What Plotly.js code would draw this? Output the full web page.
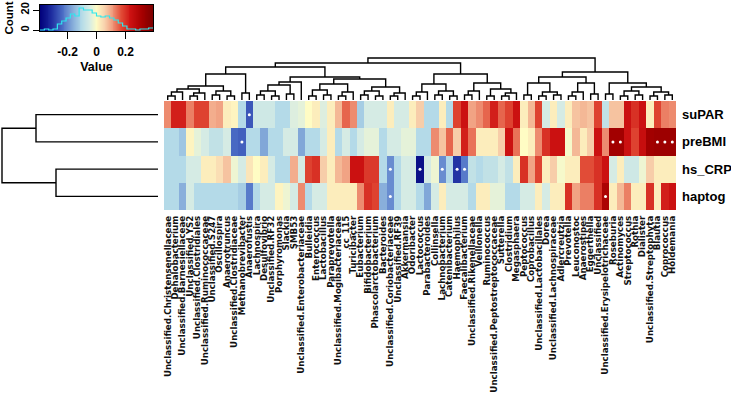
<!DOCTYPE html>
<html><head><meta charset="utf-8">
<script src="https://cdn.plot.ly/plotly-3.0.1.min.js"></script>
<style>html,body{margin:0;padding:0;background:#fff;} #chart{width:731px;height:400px;}</style>
</head><body><div id="chart"></div>
<script>
// ---------- data ----------
const taxa = ["Unclassified.Christensenellaceae","Dehalobacterium","Unclassified.Barnesiellaceae","Unclassified.YS2","Unclassified.Clostridiales","Unclassified.Ruminococcaceae","Unclassified.S247","Oscillospira","Anaerotruncus","Unclassified.Clostridiaceae","Methanobrevibacter","Anaerofustis","Lachnospira","Desulfovibrio","Unclassified.RF32","Porphyromonas","Slackia","SMB53","Unclassified.Enterobacteriaceae","Bulleidia","Enterococcus","Lactobacillus","Paraprevotella","Unclassified.Mogibacteriaceae","cc_115","Turicibacter","Eubacterium","Bifidobacterium","Phascolarctobacterium","Bacteroides","Unclassified.Coriobacteriaceae","Unclassified.RF39","Akkermansia","Odoribacter","Lactococcus","Parabacteroides","Collinsella","Lachnobacterium","Catenibacterium","Haemophilus","Faecalibacterium","Unclassified.Rikenellaceae","Veillonella","Ruminococcus","Unclassified.Peptostreptococcaceae","Sutterella","Clostridium","Megasphaera","Peptococcus","Coprobacillus","Unclassified.Lactobacillales","Dorea","Unclassified.Lachnospiraceae","Adlercreutzia","Prevotella","Leuconostoc","Anaerostipes","Eggerthella","Unclassified","Unclassified.Erysipelotrichaceae","Roseburia","Actinomyces","Streptococcus","Rothia","Dialister","Unclassified.Streptophyta","Blautia","Coprococcus","Holdemania"];
const rowNames = ["suPAR","preBMI","hs_CRP","haptog"];

const suPAR  = [0.12,0.22,0.22,0.13,0.18,0.18,0.09,0.10,0.02,0.01,-0.10,-0.26,-0.06,-0.06,-0.06,-0.10,-0.10,-0.04,-0.03,0.00,0.02,-0.04,0.02,0.08,0.15,0.12,-0.12,-0.05,-0.05,-0.05,0.02,-0.05,-0.05,0.02,0.06,-0.10,-0.10,0.02,-0.10,0.18,0.24,0.10,0.12,0.15,0.22,0.15,0.18,0.24,0.02,0.08,0.18,-0.05,0.02,-0.05,0.02,0.07,0.08,0.07,0.18,-0.08,0.07,0.07,0.24,0.20,0.24,0.02,0.18,0.13,0.12];
const preBMI = [-0.10,-0.10,-0.13,0.01,-0.03,-0.05,-0.08,-0.08,-0.05,-0.24,-0.25,-0.10,-0.10,-0.17,-0.10,-0.10,-0.05,-0.05,-0.17,-0.10,-0.10,-0.05,0.02,-0.10,-0.05,-0.10,-0.05,-0.03,-0.03,-0.10,-0.05,-0.05,-0.03,-0.03,-0.10,-0.10,0.12,0.07,0.15,0.06,0.22,0.14,0.02,0.02,0.02,0.06,0.24,0.14,0.00,0.02,0.12,0.20,0.24,0.24,-0.01,0.08,0.02,0.06,0.24,0.12,0.32,0.32,0.24,0.18,0.25,0.32,0.33,0.33,0.33];
const hsCRP  = [-0.10,-0.10,-0.10,-0.05,-0.05,0.02,0.02,0.04,0.07,-0.02,-0.05,0.03,0.00,0.02,-0.05,-0.10,-0.10,0.09,-0.05,0.18,0.20,0.06,0.02,0.08,0.10,0.24,0.24,0.19,0.19,-0.10,-0.20,-0.10,-0.05,-0.05,-0.36,-0.05,-0.02,-0.20,-0.10,-0.30,-0.22,-0.08,-0.10,-0.08,-0.08,-0.05,-0.08,0.02,0.20,0.10,0.18,0.02,0.06,-0.01,0.02,0.02,0.17,0.17,0.20,0.24,-0.05,0.02,-0.06,-0.06,-0.02,0.06,0.02,0.02,0.02];
const haptog = [-0.10,-0.10,-0.16,-0.05,-0.10,-0.10,-0.10,-0.10,-0.10,-0.10,-0.12,-0.22,-0.10,-0.05,-0.05,0.01,-0.02,-0.05,0.12,-0.10,-0.05,-0.05,0.02,0.02,0.02,0.02,0.12,0.20,0.18,-0.16,-0.20,-0.10,-0.05,-0.05,-0.10,-0.17,-0.05,0.02,-0.05,-0.05,-0.05,-0.10,0.02,0.02,-0.03,-0.03,-0.10,-0.10,-0.05,-0.05,0.02,-0.05,0.02,0.02,0.20,0.10,0.13,0.13,0.20,0.30,0.02,0.08,0.13,0.02,0.02,0.20,0.02,0.22,0.24];

// significance marks (row index, column index)
const sigRows = [0,1,2,2,2,2,2,3,3,1,1,1,1,1];
const sigCols = [11,10,30,34,37,39,40,30,59,60,61,66,67,68];

// column dendrogram: [left, right, height]; numbers are leaf columns
const colTree = [
  [
    [
      [
        [ [[[0,1,4],2,8], [[3,4,4],5,7], 11], [[6,7,5],[8,9,4],9], 14 ],
        [10,11,7], 26
      ],
      [
        [ [[[12,13,5],[14,15,4],9],[16,17,6],15], 18, 18 ],
        [ [[[19,20,4],[21,22,5],10],[[23,24,4],25,8],16],
          [[[26,27,5],[28,29,4],9],[[30,31,4],32,7],13], 21 ],
        23
      ],
      33
    ],
    [
      [ [[33,34,4],35,8], [[36,37,5],[38,39,4],9], 16 ],
      [ [[40,41,5],42,9], [[43,44,4],[[45,46,4],47,7],11], 17 ],
      26
    ],
    37
  ],
  [
    [ [[48,49,5],[[50,51,4],[52,53,5],8],17], [[[54,55,4],56,8],[57,58,6],17], 23 ],
    [ [59,60,6], [[[61,62,4],[63,64,5],9],[[65,66,4],[67,68,5],8],13], 17 ],
    28
  ],
  42
];
// row dendrogram
const rowTree = [[0,1,122],[2,3,102],156];

// colour key histogram (read from the key)
const histEdges  = [-0.39,-0.36,-0.33,-0.30,-0.27,-0.24,-0.21,-0.18,-0.15,-0.12,-0.09,-0.06,-0.03,0.00,0.03,0.06,0.09,0.12,0.15,0.18,0.21,0.24,0.27,0.30,0.33,0.36,0.39];
const histCounts = [0,1,0,1,6,9,12,16,14,22,20,20,17,14,13,14,12,10,7,4,1,1,0,1,1,2];
const keyTicks = [-0.2,0,0.2];

const zMin = -0.39, zMax = 0.39;
const cscale = [
  [0,'#00007a'],[0.1,'#1c2a9e'],[0.2,'#4c6ec6'],[0.3,'#8cb3dc'],[0.37,'#b3dae8'],
  [0.44,'#d7ece4'],[0.5,'#fffcc4'],[0.57,'#f8d3ae'],[0.64,'#f0997b'],[0.72,'#e14a35'],
  [0.8,'#ce1212'],[0.9,'#a60000'],[1,'#7d0000']
];

// ---------- helpers ----------
function dendro(node, a, b){
  if (typeof node === 'number') return {pos: node, h: 0};
  const L = dendro(node[0], a, b), R = dendro(node[1], a, b), h = node[2];
  a.push(L.pos, L.pos, R.pos, R.pos, null);
  b.push(L.h, h, h, R.h, null);
  return {pos: (L.pos + R.pos) / 2, h: h};
}
const cx = [], ch = []; dendro(colTree, cx, ch);
const ry = [], rh = []; dendro(rowTree, ry, rh);

const colIdx = taxa.map((_, i) => i);
const rowIdx = rowNames.map((_, i) => i);

// step line for histogram
const hx = [], hy = [];
histCounts.forEach((c, i) => { hx.push(histEdges[i], histEdges[i+1]); hy.push(c, c); });

// key gradient samples
const nKey = 120, keyX = [], keyZ = [];
for (let i = 0; i <= nKey; i++) keyX.push(zMin + (zMax - zMin) * i / nKey);
for (let i = 0; i < nKey; i++) keyZ.push((keyX[i] + keyX[i+1]) / 2);

const W = 731, H = 400;
const FONT = 'Liberation Sans, Arial, sans-serif';
const NARROW = 'Liberation Sans Narrow, Arial Narrow, Liberation Sans, sans-serif';
const COLFONT = 'DejaVu Sans, Liberation Sans, sans-serif';
const hmX = [164/W, 676/W];
const hmY = [1 - 210/H, 1 - 101/H];

const traces = [
  {type:'heatmap', z:[suPAR, preBMI, hsCRP, haptog], x:colIdx, y:rowIdx,
   colorscale:cscale, zmin:zMin, zmax:zMax, showscale:false, xaxis:'x', yaxis:'y', hoverinfo:'skip'},
  {type:'scatter', mode:'markers', x:sigCols, y:sigRows, xaxis:'x', yaxis:'y',
   marker:{color:'#ffffff', size:3, symbol:'circle'}, hoverinfo:'skip'},
  {type:'scatter', mode:'lines', x:cx, y:ch, xaxis:'x3', yaxis:'y3',
   line:{color:'#000', width:1.4}, hoverinfo:'skip'},
  {type:'scatter', mode:'lines', x:rh, y:ry, xaxis:'x2', yaxis:'y2',
   line:{color:'#000', width:1.4}, hoverinfo:'skip'},
  {type:'heatmap', z:[keyZ], x:keyX, y:[-1, 25], colorscale:cscale, zmin:zMin, zmax:zMax,
   showscale:false, xaxis:'x4', yaxis:'y4', hoverinfo:'skip'},
  {type:'scatter', mode:'lines', x:hx, y:hy, xaxis:'x4', yaxis:'y4',
   line:{color:'#2ee6ee', width:1.2}, hoverinfo:'skip'}
];

const hidden = {showgrid:false, zeroline:false, showticklabels:false, ticks:'', showline:false};
const layout = {
  width:W, height:H, margin:{l:0,r:0,t:0,b:0}, paper_bgcolor:'#fff', plot_bgcolor:'rgba(0,0,0,0)',
  showlegend:false, font:{family:FONT, color:'#000'},
  xaxis:{domain:hmX, range:[-0.5, 68.5], tickvals:colIdx, ticktext:taxa, tickangle:-90,
         tickfont:{size:8.7, weight:'bold', family:COLFONT, color:'#111'}, showgrid:false, zeroline:false, ticks:'',
         ticklabelstandoff:3, anchor:'y'},
  yaxis:{domain:hmY, range:[3.5, -0.5], side:'right', tickvals:rowIdx, ticktext:rowNames,
         tickfont:{size:13, weight:'bold', family:FONT}, showgrid:false, zeroline:false, ticks:'',
         ticklabelstandoff:5, anchor:'x'},
  xaxis2:Object.assign({domain:[0, 158/W], range:[158, 0], anchor:'y2'}, hidden),
  yaxis2:Object.assign({domain:hmY, range:[3.5, -0.5], anchor:'x2'}, hidden),
  xaxis3:Object.assign({domain:hmX, range:[-0.5, 68.5], anchor:'y3'}, hidden),
  yaxis3:Object.assign({domain:[1 - 100/H, 1 - 56/H], range:[0, 44], anchor:'x3'}, hidden),
  xaxis4:{domain:[40/W, 153/W], range:[zMin, zMax], anchor:'y4', tickvals:keyTicks, ticktext:['-0.2','0','0.2'],
          ticks:'outside', ticklen:7, tickwidth:1, tickcolor:'#000', showline:true, mirror:true, linecolor:'#000', linewidth:1,
          tickfont:{size:12, weight:'bold', family:NARROW}, showgrid:false, zeroline:false, ticklabelstandoff:3,
          title:{text:'Value', font:{size:12.5, weight:'bold', family:NARROW}, standoff:3}},
  yaxis4:{domain:[1 - 31/H, 1 - 5/H], range:[-1, 25], anchor:'x4', tickvals:[0,20], ticktext:['0','20'],
          tickangle:-90, ticks:'outside', ticklen:6, tickwidth:1, tickcolor:'#000', showline:true, mirror:true,
          linecolor:'#000', linewidth:1, tickfont:{size:11, weight:'bold', family:NARROW}, showgrid:false, zeroline:false,
          title:{text:'Count', font:{size:11.5, weight:'bold', family:NARROW}, standoff:2}}
};

Plotly.newPlot('chart', traces, layout, {staticPlot:true, displayModeBar:false});
</script></body></html>
